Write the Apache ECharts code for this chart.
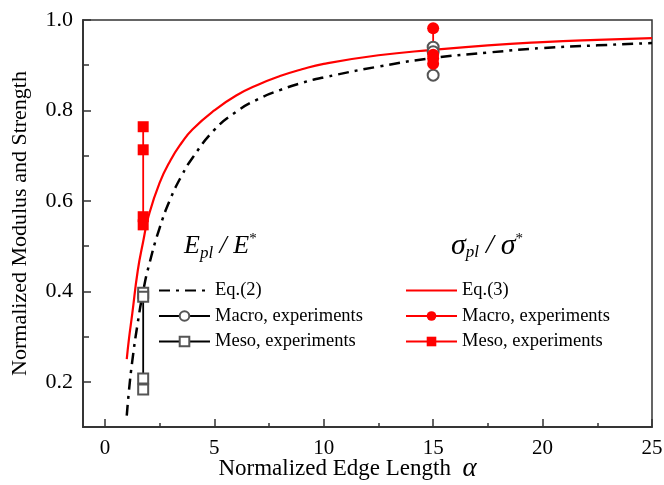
<!DOCTYPE html>
<html>
<head>
<meta charset="utf-8">
<script src="https://cdn.jsdelivr.net/npm/echarts@6/dist/echarts.min.js"></script>
<style>
  html, body { margin: 0; padding: 0; background: #fff; }
  #chart { width: 664px; height: 485px; }
</style>
</head>
<body>
<div id="chart"></div>
<script>
  // normalized edge length alpha for the model curves
  const alphaEq = [1, 1.1, 1.25, 1.5, 1.75, 2, 2.5, 3, 3.5, 4, 5, 6, 7, 8, 9, 10, 12.5, 15, 17.5, 20, 22.5, 25]
  // Eq.(2): E_pl / E*
  const eq2Values = [0.125, 0.18, 0.245, 0.33, 0.40, 0.455, 0.54, 0.605, 0.655, 0.695, 0.757, 0.797, 0.825, 0.845, 0.861, 0.873, 0.897, 0.916, 0.928, 0.938, 0.944, 0.949]
  // Eq.(3): sigma_pl / sigma*
  const eq3Values = [0.25, 0.295, 0.35, 0.445, 0.51, 0.567, 0.64, 0.69, 0.728, 0.758, 0.80, 0.833, 0.857, 0.876, 0.891, 0.903, 0.922, 0.934, 0.944, 0.951, 0.956, 0.960]

  // experiments
  const macroAlpha = 15
  const mesoAlpha = 1.75
  const macroModulus = [0.94, 0.93, 0.878]
  const mesoModulus = [0.397, 0.388, 0.207, 0.183]
  const macroStrength = [0.982, 0.923, 0.915, 0.903]
  const mesoStrength = [0.764, 0.713, 0.565, 0.547]

  const xMajor = [0, 5, 10, 15, 20, 25]
  const xMinor = [2.5, 7.5, 12.5, 17.5, 22.5]
  const yMajor = [0.2, 0.4, 0.6, 0.8, 1.0]
  const yMinor = [0.3, 0.5, 0.7, 0.9]

  const legendNames = {
    eq2: 'Eq.(2)', macroE: 'Macro, experiments', mesoE: 'Meso, experiments',
    eq3: 'Eq.(3)', macroS: 'Macro, experiments', mesoS: 'Meso, experiments'
  }

  const pairs = (xs, ys) => ys.map((y, i) => [xs[i], y])
  const column = (x, ys) => ys.map(y => [x, y])

  const serif = 'Liberation Serif'
  const axisColor = '#333'
  const chart = echarts.init(document.getElementById('chart'))

  const headerRich = (big, slash) => ({
    i: { fontFamily: serif, fontStyle: 'italic', fontSize: big, color: '#000' },
    s: { fontFamily: serif, fontStyle: 'italic', fontSize: 17, color: '#000', padding: [14, 0, 0, 0] },
    n: { fontFamily: serif, fontStyle: 'italic', fontSize: slash, color: '#000' },
    p: { fontFamily: serif, fontSize: 15, color: '#000', padding: [0, 0, 14, 0] }
  })

  const legendBase = {
    orient: 'vertical', top: 281, padding: 0,
    itemWidth: 51, itemHeight: 12, itemGap: 6.5,
    formatter: n => legendNames[n],
    textStyle: { fontFamily: serif, fontSize: 18.5, color: '#000' }
  }

  const xAxisBase = {
    type: 'value', min: -1, max: 25, position: 'bottom',
    axisLine: { onZero: false, lineStyle: { color: axisColor, width: 1.5 } },
    splitLine: { show: false }
  }
  const yAxisBase = {
    type: 'value', min: 0.1, max: 1.0, position: 'left',
    axisLine: { show: true, onZero: false, lineStyle: { color: axisColor, width: 1.5 } },
    splitLine: { show: false }
  }

  chart.setOption({
    animation: false,
    backgroundColor: '#fff',
    grid: {
      left: 83, right: 12, top: 20, bottom: 58,
      outerBoundsMode: 'none', containLabel: false,
      show: true, borderColor: axisColor, borderWidth: 1.5
    },
    legend: [
      Object.assign({ data: ['eq2', 'macroE', 'mesoE'], left: 158 }, legendBase),
      Object.assign({ data: ['eq3', 'macroS', 'mesoS'], left: 405 }, legendBase)
    ],
    graphic: [
      {
        type: 'text', left: 184, top: 232,
        style: { text: '{i|E}{s|pl}{n| / }{i|E}{p|*}', rich: headerRich(26, 26) }
      },
      {
        type: 'text', left: 451, top: 231,
        style: { text: '{i|σ}{s|pl}{n| / }{i|σ}{p|*}', rich: headerRich(30, 28) }
      }
    ],
    xAxis: [
      Object.assign({}, xAxisBase, {
        name: 'Normalized Edge Length  {a|α}',
        nameLocation: 'middle', nameGap: 28, nameMoveOverlap: false,
        nameTextStyle: {
          fontFamily: serif, fontSize: 23, color: '#000', padding: [0, 40, 0, 0],
          rich: { a: { fontFamily: serif, fontStyle: 'italic', fontSize: 27, color: '#000' } }
        },
        axisTick: { inside: true, length: 8, lineStyle: { color: axisColor, width: 1.5 }, customValues: xMajor },
        axisLabel: { fontFamily: serif, fontSize: 21, color: '#000', margin: 11, customValues: xMajor }
      }),
      Object.assign({}, xAxisBase, {
        axisTick: { inside: true, length: 4, lineStyle: { color: axisColor, width: 1.5 }, customValues: xMinor },
        axisLabel: { show: false }
      })
    ],
    yAxis: [
      Object.assign({}, yAxisBase, {
        name: 'Normalized Modulus and Strength',
        nameLocation: 'middle', nameGap: 52,
        nameTextStyle: { fontFamily: serif, fontSize: 22, color: '#000' },
        axisTick: { show: true, inside: true, length: 8, lineStyle: { color: axisColor, width: 1.5 }, customValues: yMajor },
        axisLabel: {
          fontFamily: serif, fontSize: 22, color: '#000', margin: 10,
          customValues: yMajor,
          formatter: v => v.toFixed(1)
        }
      }),
      Object.assign({}, yAxisBase, {
        axisTick: { show: true, inside: true, length: 6, lineStyle: { color: axisColor, width: 1.5 }, customValues: yMinor },
        axisLabel: { show: false }
      })
    ],
    series: [
      {
        name: 'eq2', type: 'line', smooth: true, symbol: 'none',
        data: pairs(alphaEq, eq2Values),
        lineStyle: { color: '#000', width: 2.5, type: [11, 6, 3, 6] },
        itemStyle: { color: 'rgba(0,0,0,0)' }
      },
      {
        name: 'macroE', type: 'line', symbol: 'emptyCircle', symbolSize: 11,
        data: column(macroAlpha, macroModulus),
        lineStyle: { color: '#000', width: 1.5 },
        itemStyle: { color: '#555', borderWidth: 1 }
      },
      {
        name: 'mesoE', type: 'line', symbol: 'emptyRect', symbolSize: 10,
        data: column(mesoAlpha, mesoModulus),
        lineStyle: { color: '#000', width: 1.8 },
        itemStyle: { color: '#555', borderWidth: 1 }
      },
      {
        name: 'eq3', type: 'line', smooth: true, symbol: 'none',
        data: pairs(alphaEq, eq3Values),
        lineStyle: { color: '#ff0000', width: 2.2 },
        itemStyle: { color: 'rgba(0,0,0,0)' }
      },
      {
        name: 'macroS', type: 'line', symbol: 'circle', symbolSize: 12,
        data: column(macroAlpha, macroStrength),
        lineStyle: { color: '#ff0000', width: 1.8 },
        itemStyle: { color: '#ff0000' }
      },
      {
        name: 'mesoS', type: 'line', symbol: 'rect', symbolSize: 11,
        data: column(mesoAlpha, mesoStrength),
        lineStyle: { color: '#ff0000', width: 1.8 },
        itemStyle: { color: '#ff0000' }
      }
    ]
  })
</script>
</body>
</html>
